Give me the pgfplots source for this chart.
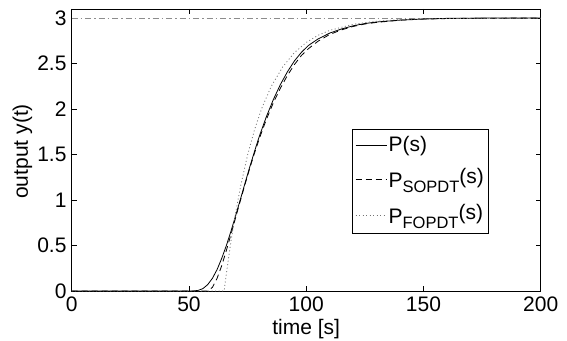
\documentclass[border=0pt]{standalone}
\usepackage{fontspec}
\setmainfont{Liberation Sans}
\usepackage{pgfplots}
\pgfplotsset{compat=1.18}
\definecolor{refgray}{gray}{0.55}
\definecolor{dotgray}{gray}{0.45}
\newcommand{\sub}[1]{\raisebox{-5.5bp}{\fontsize{16.5bp}{17bp}\selectfont #1}}
\newcommand{\ras}[1]{\raisebox{4bp}{#1}}
\begin{document}
\fontsize{21bp}{24bp}\selectfont
\begin{tikzpicture}
\begin{axis}[
  name=ax,
  scale only axis,
  width=469bp, height=282bp,
  xmin=0, xmax=200, ymin=0, ymax=3.1,
  xtick={0,50,100,150,200},
  ytick={0,0.5,1,1.5,2,2.5,3},
  tick align=inside,
  major tick length=5bp,
  tick style={black, line width=0.6bp},
  axis line style={black, line width=0.9bp},
  /pgf/number format/assume math mode=true,
  xticklabel style={inner sep=0bp, yshift=-6bp},
  yticklabel style={inner sep=0bp, xshift=-5bp},
  xlabel={time [s]},
  ylabel={output y(t)},
  xlabel style={at={(axis description cs:0.5,-0.156)}, anchor=base, inner sep=0pt},
  ylabel style={at={(axis description cs:-0.105,0.495)}, anchor=center, inner sep=0pt},
  legend cell align=left,
  legend style={at={(axis description cs:0.8895,0.5745)}, anchor=north east,
    draw=black, line width=0.8bp, inner xsep=3bp, inner ysep=5bp, row sep=9.5bp,
    font=\fontsize{21bp}{24bp}\selectfont,
    nodes={inner xsep=1.5bp}},
  legend image code/.code={\draw[#1] (0bp,0bp) -- (31bp,0bp);},
  clip=true,
]
\addplot[refgray, line width=0.7bp, dash pattern=on 6bp off 3bp on 1.5bp off 3bp, forget plot] coordinates {(0,3) (200,3)};
\addplot[black, line width=0.8bp] coordinates {
(0,0) (50,0) (52,0.0006) (54,0.007) (56,0.027) (58,0.07) (60,0.139) (62,0.236) (64,0.36)
(66,0.503) (68,0.664) (70,0.836) (72,1.013) (74,1.193) (76,1.369) (78,1.538) (80,1.70)
(83,1.915) (86,2.105) (89,2.27) (92,2.41) (95,2.53) (98,2.625) (101,2.70) (105,2.77)
(110,2.835) (115,2.88) (120,2.915) (125,2.94) (130,2.957) (140,2.978) (150,2.99)
(160,2.997) (175,3.0) (200,3.0)};
\addlegendentry{P(s)}
\addplot[black, line width=0.8bp, dash pattern=on 6bp off 4bp] coordinates {
(0,0) (58,0) (60,0.04) (62,0.14) (64,0.28) (66,0.45) (68,0.63) (70,0.815) (72,1.0)
(74,1.18) (76,1.355) (78,1.52) (80,1.675) (83,1.885) (86,2.07) (89,2.23) (92,2.37)
(95,2.49) (98,2.59) (101,2.665) (105,2.745) (110,2.82) (115,2.87) (120,2.908)
(125,2.935) (130,2.953) (140,2.977) (150,2.989) (160,2.995) (175,2.999) (200,3.0)};
\addlegendentry{P\sub{SOPDT}\ras{(s)}}
\addplot[dotgray, line width=0.8bp, dash pattern=on 1bp off 2.5bp] coordinates {
(0,0) (65,0) (66,0.200) (68,0.561) (70,0.875) (72,1.149) (75,1.495) (78,1.776)
(81,2.005) (85,2.245) (90,2.465) (95,2.621) (100,2.732) (105,2.810) (110,2.865)
(120,2.932) (130,2.966) (140,2.983) (150,2.991) (160,2.996) (175,2.998) (200,3.0)};
\addlegendentry{P\sub{FOPDT}\ras{(s)}}
\end{axis}
\pgfresetboundingbox
\path[use as bounding box] ([shift={(-71.7bp,-50bp)}]ax.south west) rectangle ([shift={(26.3bp,9bp)}]ax.north east);
\end{tikzpicture}
\end{document}
